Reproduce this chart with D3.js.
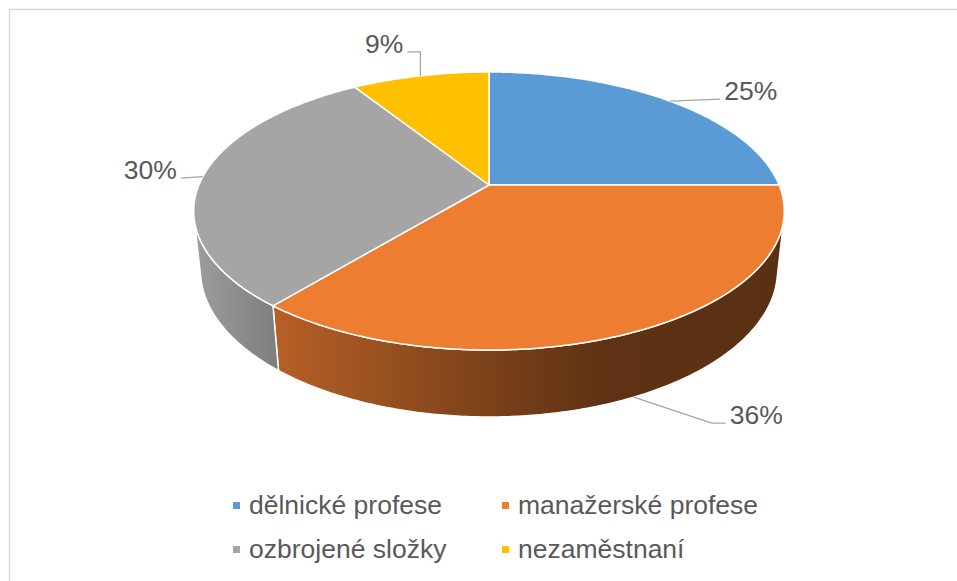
<!DOCTYPE html>
<html>
<head>
<meta charset="utf-8">
<script src="https://cdn.jsdelivr.net/npm/d3@7"></script>
<style>
body{margin:0;background:#fff}
svg{display:block;font-family:"Liberation Sans",Arial,sans-serif}
</style>
</head>
<body>
<svg width="957" height="581"></svg>
<script>
// dati
var categorie = ["dělnické profese", "manažerské profese", "ozbrojené složky", "nezaměstnaní"];
var valori = [25, 36, 30, 9];
var etichette = ["25%", "36%", "30%", "9%"];
var colori = ["#5B9BD5", "#ED7D31", "#A5A5A5", "#FFC000"];

// posizione etichette: gomito rispetto al bordo, coda orizzontale, lato del testo
var posEtichette = [
	{dx: 50, dy: -2, coda: 0, lato: "start"},
	{dx: 78, dy: 26, coda: 14, lato: "start"},
	{dx: -22, dy: 1.5, coda: 0, lato: "end"},
	{dx: 0, dy: -24, coda: -13, lato: "end"}
];

var svg = d3.select("svg");
var colore = d3.scaleOrdinal().domain(categorie).range(colori);

/*
PROIEZIONE PROSPETTICA DEL DISCO
*/
var cx = 489, cy = 185;
var F = 1375, D = 4.74;
var sa = 0.4625, ca = Math.sqrt(1 - sa * sa);
var spessore = 0.232;

function proietta(t, z, r) {
	if (r === undefined) r = 1;
	var X = r * Math.sin(t), Y = r * Math.cos(t);
	var prof = D + Y * ca - z * sa;
	var sy = Y * sa + z * ca;
	return [cx + F * X / prof, cy - F * sy / prof];
}

function arco(t0, t1, z) {
	var n = Math.max(2, Math.ceil((t1 - t0) / 0.01));
	return d3.range(n + 1).map(function(i) {
		return proietta(t0 + (t1 - t0) * i / n, z);
	});
}

// arco frontale visibile della parete laterale
var tVis0 = Math.acos(-1 / (D * ca));
var tVis1 = 2 * Math.PI - tVis0;

var fette = d3.pie().sort(null).value(function(d) { return d; })(valori);
var linea = d3.line();

// bordo del grafico
svg.append("rect")
	.attr("x", 9.5).attr("y", 9.5)
	.attr("width", 990).attr("height", 620)
	.attr("fill", "none")
	.attr("stroke", "#D9D9D9")
	.attr("stroke-width", 1.5);

// sfumature per le pareti
var xMin = cx - F / D / Math.sqrt(1 - Math.pow(ca / D, 2));
var xMax = 2 * cx - xMin;
var luce = [[0, 0.95], [0.137, 0.77], [0.5, 0.52], [0.69, 0.40], [1, 0.38]];
var defs = svg.append("defs");
fette.forEach(function(f, i) {
	var g = defs.append("linearGradient")
		.attr("id", "parete" + i)
		.attr("gradientUnits", "userSpaceOnUse")
		.attr("x1", xMin).attr("x2", xMax)
		.attr("y1", 0).attr("y2", 0);
	var c = d3.rgb(colore(categorie[i]));
	luce.forEach(function(s) {
		g.append("stop")
			.attr("offset", s[0])
			.attr("stop-color", d3.rgb(c.r * s[1], c.g * s[1], c.b * s[1]).formatHex());
	});
});

// pareti laterali
var gPareti = svg.append("g");
fette.forEach(function(f, i) {
	var a = Math.max(f.startAngle, tVis0);
	var b = Math.min(f.endAngle, tVis1);
	if (b <= a) return;
	var pts = arco(a, b, 0).concat(arco(a, b, -spessore).reverse());
	gPareti.append("path")
		.attr("d", linea(pts) + "Z")
		.attr("fill", "url(#parete" + i + ")")
		.attr("stroke", "#fff")
		.attr("stroke-width", 1.5)
		.attr("stroke-linejoin", "round");
});

// facce superiori
svg.append("g")
	.selectAll("path")
	.data(fette)
	.enter().append("path")
	.attr("d", function(d) {
		var pts = [proietta(0, 0, 0)].concat(arco(d.startAngle, d.endAngle, 0));
		return linea(pts) + "Z";
	})
	.attr("fill", function(d, i) { return colore(categorie[i]); })
	.attr("stroke", "#fff")
	.attr("stroke-width", 1.5)
	.attr("stroke-linejoin", "round");

// etichette con linee guida
var gEtich = svg.append("g");
fette.forEach(function(f, i) {
	var m = (f.startAngle + f.endAngle) / 2;
	var z = (m > tVis0 && m < tVis1) ? -spessore : 0;
	var p = proietta(m, z);
	var pe = posEtichette[i];
	var gomito = [p[0] + pe.dx, p[1] + pe.dy];
	var fine = [gomito[0] + pe.coda, gomito[1]];
	gEtich.append("path")
		.attr("d", linea([p, gomito, fine]))
		.attr("fill", "none")
		.attr("stroke", "#A6A6A6")
		.attr("stroke-width", 1.3);
	gEtich.append("text")
		.attr("x", fine[0] + (pe.lato == "start" ? 4 : -4))
		.attr("y", fine[1] + 1)
		.attr("text-anchor", pe.lato)
		.attr("font-size", 26.5)
		.attr("fill", "#595959")
		.text(etichette[i]);
});

// legenda
var legenda = svg.append("g")
	.selectAll("g")
	.data(categorie)
	.enter().append("g")
	.attr("transform", function(d, i) {
		return "translate(" + (233 + (i % 2) * 269) + "," + (514 + Math.floor(i / 2) * 44) + ")";
	});
legenda.append("rect")
	.attr("x", 0).attr("y", -12)
	.attr("width", 7).attr("height", 7)
	.attr("fill", function(d) { return colore(d); });
legenda.append("text")
	.attr("x", 16).attr("y", 0)
	.attr("font-size", 26.5)
	.attr("fill", "#595959")
	.text(function(d) { return d; });
</script>
</body>
</html>
